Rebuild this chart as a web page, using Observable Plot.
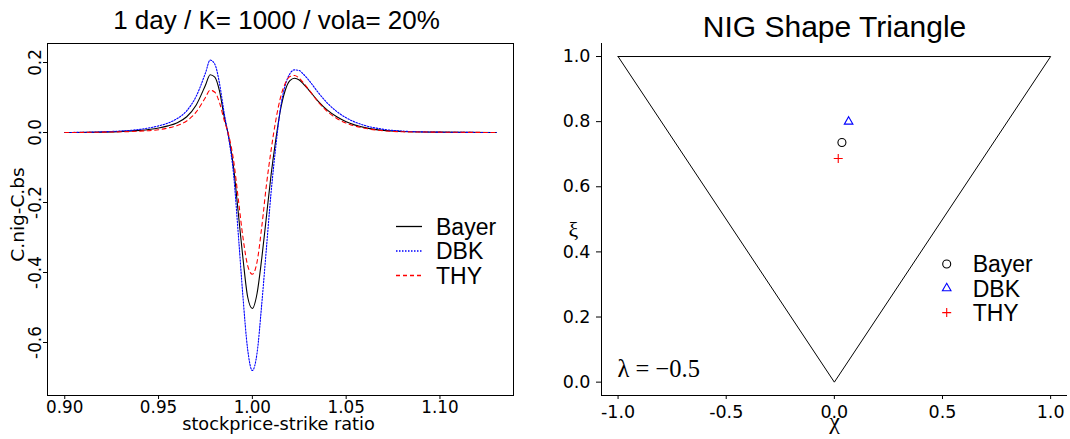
<!DOCTYPE html>
<html><head><meta charset="utf-8">
<script src="https://cdn.jsdelivr.net/npm/d3@7"></script>
<script src="https://cdn.jsdelivr.net/npm/@observablehq/plot@0.6"></script>
<style>
body{margin:0;background:#fff;}
#wrap{display:flex;width:1070px;height:439px;overflow:hidden;}
#wrap svg{font-family:"Liberation Sans",Arial,sans-serif;overflow:visible;}
</style></head><body><div id="wrap"></div>
<script>
// ---- left panel data ----
const ratio = [0.90,0.92,0.94,0.95,0.955,0.96,0.965,0.97,0.975,0.9775,0.98,0.9825,0.985,0.9875,0.99,0.9925,0.995,0.9975,1.000,1.0025,1.005,1.0075,1.01,1.0125,1.015,1.0175,1.02,1.0225,1.025,1.0275,1.03,1.035,1.04,1.045,1.05,1.06,1.07,1.08,1.10,1.13];
const bayer = [0.000,0.001,0.006,0.013,0.019,0.028,0.045,0.078,0.135,0.165,0.158,0.118,0.045,-0.015,-0.10,-0.23,-0.36,-0.47,-0.503,-0.46,-0.36,-0.24,-0.12,-0.02,0.065,0.12,0.148,0.155,0.150,0.137,0.122,0.090,0.064,0.045,0.031,0.014,0.006,0.003,0.001,0.000];
const dbk = [0.000,0.002,0.009,0.019,0.027,0.040,0.062,0.103,0.170,0.207,0.195,0.140,0.055,-0.02,-0.12,-0.29,-0.47,-0.62,-0.68,-0.63,-0.49,-0.33,-0.17,-0.04,0.07,0.135,0.168,0.179,0.177,0.165,0.150,0.115,0.084,0.060,0.042,0.020,0.009,0.004,0.001,0.000];
const thy = [0.000,0.001,0.004,0.008,0.013,0.020,0.033,0.058,0.100,0.121,0.115,0.085,0.035,-0.010,-0.08,-0.19,-0.30,-0.38,-0.405,-0.37,-0.27,-0.15,-0.05,0.035,0.10,0.14,0.16,0.163,0.155,0.140,0.123,0.088,0.060,0.040,0.027,0.012,0.005,0.002,0.001,0.000];
const seriesNames = ["Bayer","DBK","THY"];
const seriesColors = ["#000000","#0000ff","#ff0000"];
const seriesDash = ["none","1.5,1.5","4,3.5"];
const legendDash = ["none","1.5,1.5","4,3"];
const xTicksL = [0.90,0.95,1.00,1.05,1.10];
const yTicksL = [0.2,0.0,-0.2,-0.4,-0.6];
const titleL = "1 day / K= 1000 / vola= 20%";
const xLabelL = "stockprice-strike ratio";
const yLabelL = "C.nig-C.bs";

// ---- right panel data ----
const triChi = [-1, 0, 1, -1];
const triXi = [1, 0, 1, 1];
const pointChi = [0.035, 0.066, 0.018];
const pointXi = [0.736, 0.800, 0.687];
const xTicksR = [-1.0,-0.5,0.0,0.5,1.0];
const yTicksR = [0.0,0.2,0.4,0.6,0.8,1.0];
const titleR = "NIG Shape Triangle";
const lambdaText = "λ = −0.5";

const FONT = '"Liberation Sans",Arial,sans-serif';
const AXF = '"DejaVu Sans",sans-serif';
const SERIF = '"Liberation Serif","Times New Roman",serif';

const allSeries = [bayer, dbk, thy];
const rows = [];
seriesNames.forEach((s, i) => ratio.forEach((r, j) => rows.push({series: s, ratio: r, diff: allSeries[i][j]})));

const left = Plot.plot({
  width: 535, height: 439,
  marginLeft: 47, marginRight: 22, marginTop: 43, marginBottom: 44,
  x: {domain: [0.8908, 1.1392]},
  y: {domain: [-0.7514, 0.2543]},
  style: {fontFamily: FONT, color: "black", background: "white", overflow: "visible"},
  marks: [
    Plot.frame({stroke: "black", strokeWidth: 1}),
    ...seriesNames.map((s, i) => Plot.line(rows.filter(d => d.series === s), {
      x: "ratio", y: "diff", stroke: seriesColors[i], strokeDasharray: seriesDash[i],
      strokeWidth: 1.1, curve: "monotone-x"
    })),
    Plot.axisX({ticks: xTicksL, tickSize: 4, tickPadding: 2, tickFormat: d => d.toFixed(2), fontSize: 16.8, fontFamily: AXF, label: null, stroke: "black"}),
    Plot.axisY({ticks: yTicksL, tickSize: 4, tickFormat: () => "", label: null}),
    Plot.text(yTicksL, {y: d => d, text: d => d.toFixed(1), frameAnchor: "left", textAnchor: "middle", rotate: -90, dx: -11.5, fontSize: 16.8, fontFamily: AXF}),
    Plot.text([yLabelL], {frameAnchor: "left", textAnchor: "middle", rotate: -90, dx: -29, dy: -5, fontSize: 18.5, fontFamily: AXF}),
    Plot.text([xLabelL], {frameAnchor: "bottom", dy: 22.3, lineAnchor: "top", fontSize: 17.7, fontFamily: AXF, dx: -2}),
    Plot.text([titleL], {frameAnchor: "top", dy: -14.7, lineAnchor: "bottom", fontSize: 26, dx: -4})
  ]
});

// legend (left)
{
  const g = d3.select(left).append("g").attr("font-family", FONT).attr("font-size", 23).attr("text-anchor", "start");
  seriesNames.forEach((s, i) => {
    const y = 226.5 + i * 24.5;
    g.append("path").attr("d", `M396,${y}H422`)
      .attr("fill", "none")
      .attr("stroke", seriesColors[i]).attr("stroke-width", 1.3)
      .attr("stroke-dasharray", legendDash[i]);
    g.append("text").attr("x", 436).attr("y", y + 8.3).attr("text-anchor", "start").attr("fill", "black").text(s);
  });
}

const symbolTypes = [d3.symbolCircle, d3.symbolTriangle2 || d3.symbolTriangle, d3.symbolPlus || d3.symbolCross];
const symbolR = [4, 4.1, 3.0];
const pts = seriesNames.map((s, i) => ({series: s, chi: pointChi[i], xi: pointXi[i]}));
const tri = triChi.map((c, i) => ({chi: c, xi: triXi[i]}));
const xDomR = [-1.0766, 1.078], yDomR = [-0.041, 1.04];

const right = Plot.plot({
  width: 535, height: 439,
  marginLeft: 66, marginRight: 3, marginTop: 43, marginBottom: 44,
  x: {domain: xDomR},
  y: {domain: yDomR},
  style: {fontFamily: FONT, color: "black", background: "white", overflow: "visible"},
  marks: [
    Plot.ruleX([xDomR[0]], {stroke: "black"}),
    Plot.ruleY([yDomR[0]], {stroke: "black"}),
    Plot.line(tri, {x: "chi", y: "xi", stroke: "black", strokeWidth: 1}),
    ...pts.map((p, i) => Plot.dot([p], {x: "chi", y: "xi", stroke: seriesColors[i], fill: "none", strokeWidth: 1.1, symbol: symbolTypes[i], r: symbolR[i]})),
    Plot.axisX({ticks: xTicksR, tickSize: 4, tickPadding: 6, tickFormat: d => d.toFixed(1), fontSize: 17.5, fontFamily: AXF, label: null}),
    Plot.axisY({ticks: yTicksR, tickSize: 5, tickPadding: 6, tickFormat: d => d.toFixed(1), fontSize: 17.5, fontFamily: AXF, label: null}),
    Plot.text(["ξ"], {frameAnchor: "left", textAnchor: "middle", dx: -28, dy: 10, fontSize: 22, fontFamily: SERIF}),
    Plot.text(["χ"], {frameAnchor: "bottom", textAnchor: "middle", dy: 33, lineAnchor: "bottom", fontSize: 24, fontFamily: SERIF}),
    Plot.text([lambdaText], {frameAnchor: "bottom-left", dx: 16, dy: -19, lineAnchor: "bottom", textAnchor: "start", fontSize: 24.5, fontFamily: SERIF}),
    Plot.text([titleR], {frameAnchor: "top", dy: -7, lineAnchor: "bottom", fontSize: 30})
  ]
});

// legend (right)
{
  const g = d3.select(right).append("g").attr("font-family", FONT).attr("font-size", 23).attr("text-anchor", "start");
  seriesNames.forEach((s, i) => {
    const y = 264 + i * 24.3;
    g.append("path").attr("transform", `translate(${946.7 - 535},${y})`)
      .attr("d", d3.symbol(symbolTypes[i], Math.PI * symbolR[i] * symbolR[i])())
      .attr("fill", "none").attr("stroke", seriesColors[i]).attr("stroke-width", 1.1);
    g.append("text").attr("x", 972.7 - 535).attr("y", y + 8.3).attr("text-anchor", "start").attr("fill", "black").text(s);
  });
}

document.getElementById("wrap").append(left, right);
</script>
</body></html>
